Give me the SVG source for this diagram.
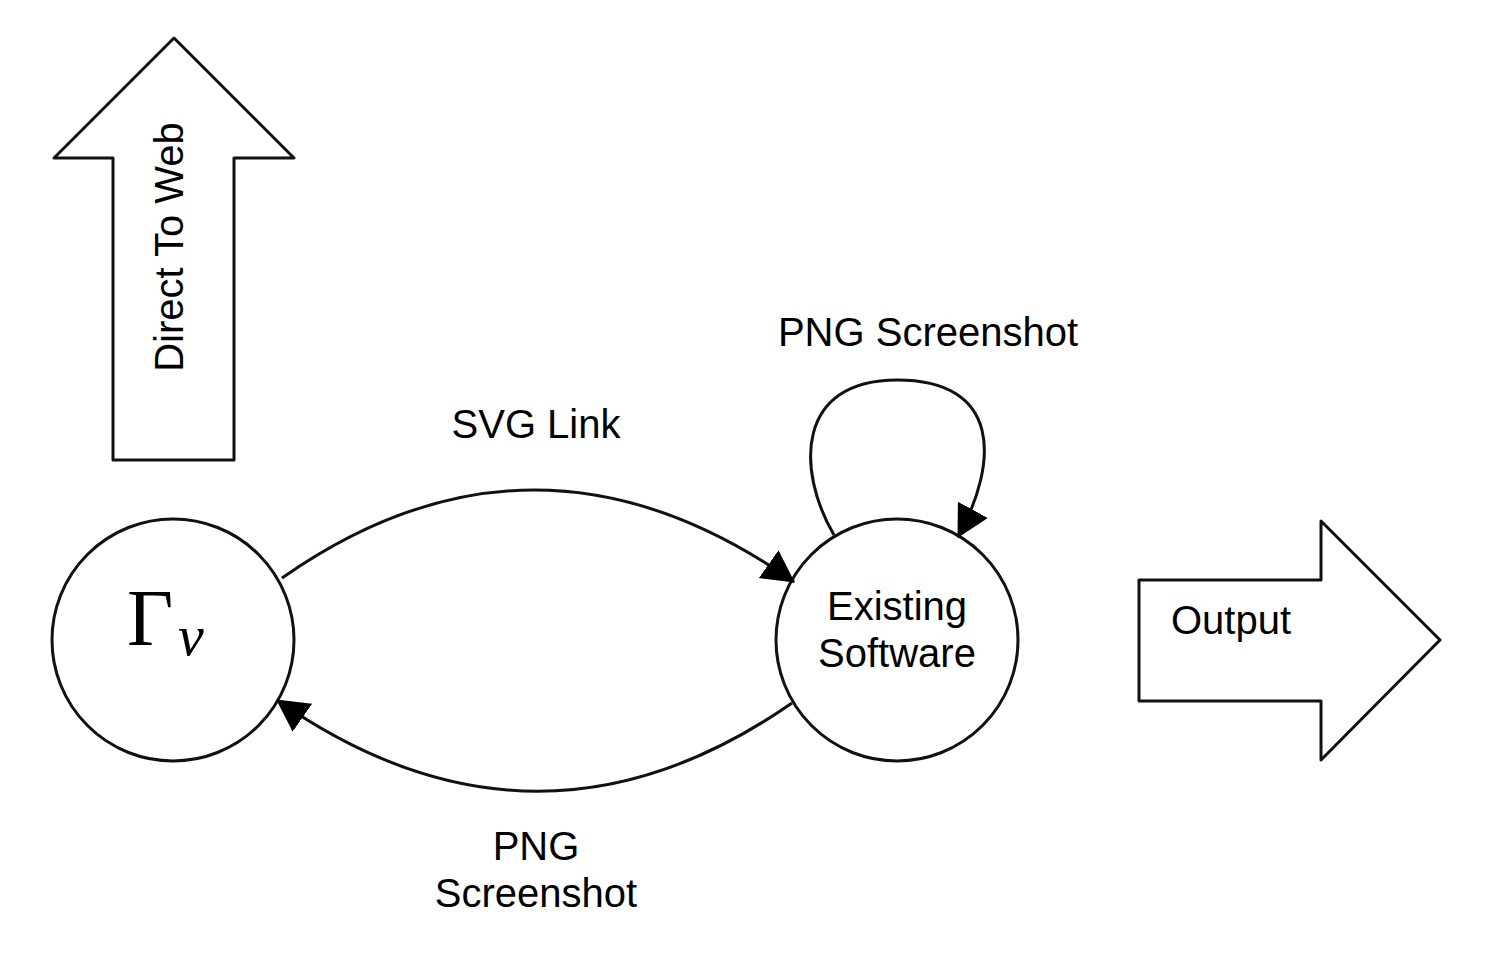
<svg xmlns="http://www.w3.org/2000/svg" width="1509" height="953" viewBox="0 0 1509 953">
<style>
.shape{fill:#fff;stroke:#111;stroke-width:3;stroke-linejoin:round}
.edge{fill:none;stroke:#111;stroke-width:3}
.lbl{font-family:"Liberation Sans",Arial,sans-serif;font-size:40px;fill:#000}
</style>
<defs>
<marker id="ah" markerUnits="userSpaceOnUse" markerWidth="34" markerHeight="36" refX="31" refY="17" orient="auto" viewBox="0 0 34 36">
<path d="M0,0 L32,17 L0,34 z" fill="#000"/>
</marker>
</defs>
<rect width="1509" height="953" fill="#fff"/>
<g id="direct-to-web">
<polygon class="shape" points="174,38 294,158 234,158 234,460 113,460 113,158 54,158"/>
<text class="lbl" text-anchor="middle" transform="translate(183,247) rotate(-90)">Direct To Web</text>
</g>
<g id="output">
<polygon class="shape" points="1139,580 1321,580 1321,521 1440,640 1321,760 1321,701 1139,701"/>
<text class="lbl" x="1171" y="634">Output</text>
</g>
<g id="gamma">
<circle class="shape" cx="173" cy="640" r="121"/>
<text x="127" y="645" font-family="'Liberation Serif','Times New Roman',serif" font-size="80">Γ</text>
<text x="178" y="655" font-family="'Liberation Serif','Times New Roman',serif" font-size="58" font-style="italic">ν</text>
</g>
<g id="existing-software">
<circle class="shape" cx="897" cy="640" r="121"/>
<text class="lbl" text-anchor="middle" x="897" y="620">Existing</text>
<text class="lbl" text-anchor="middle" x="897" y="667">Software</text>
</g>
<g id="connectors">
<path class="edge" d="M282,578 Q536,400 794,582" marker-end="url(#ah)"/>
<path class="edge" d="M792,703 Q536,881 277,700" marker-end="url(#ah)"/>
<path class="edge" d="M834,535 C796,470 796,380 897,380 C1000,380 1000,460 958,537" marker-end="url(#ah)"/>
<text class="lbl" text-anchor="middle" x="536" y="438">SVG Link</text>
<text class="lbl" text-anchor="middle" x="928" y="346">PNG Screenshot</text>
<text class="lbl" text-anchor="middle" x="536" y="860">PNG</text>
<text class="lbl" text-anchor="middle" x="536" y="907">Screenshot</text>
</g>
</svg>
